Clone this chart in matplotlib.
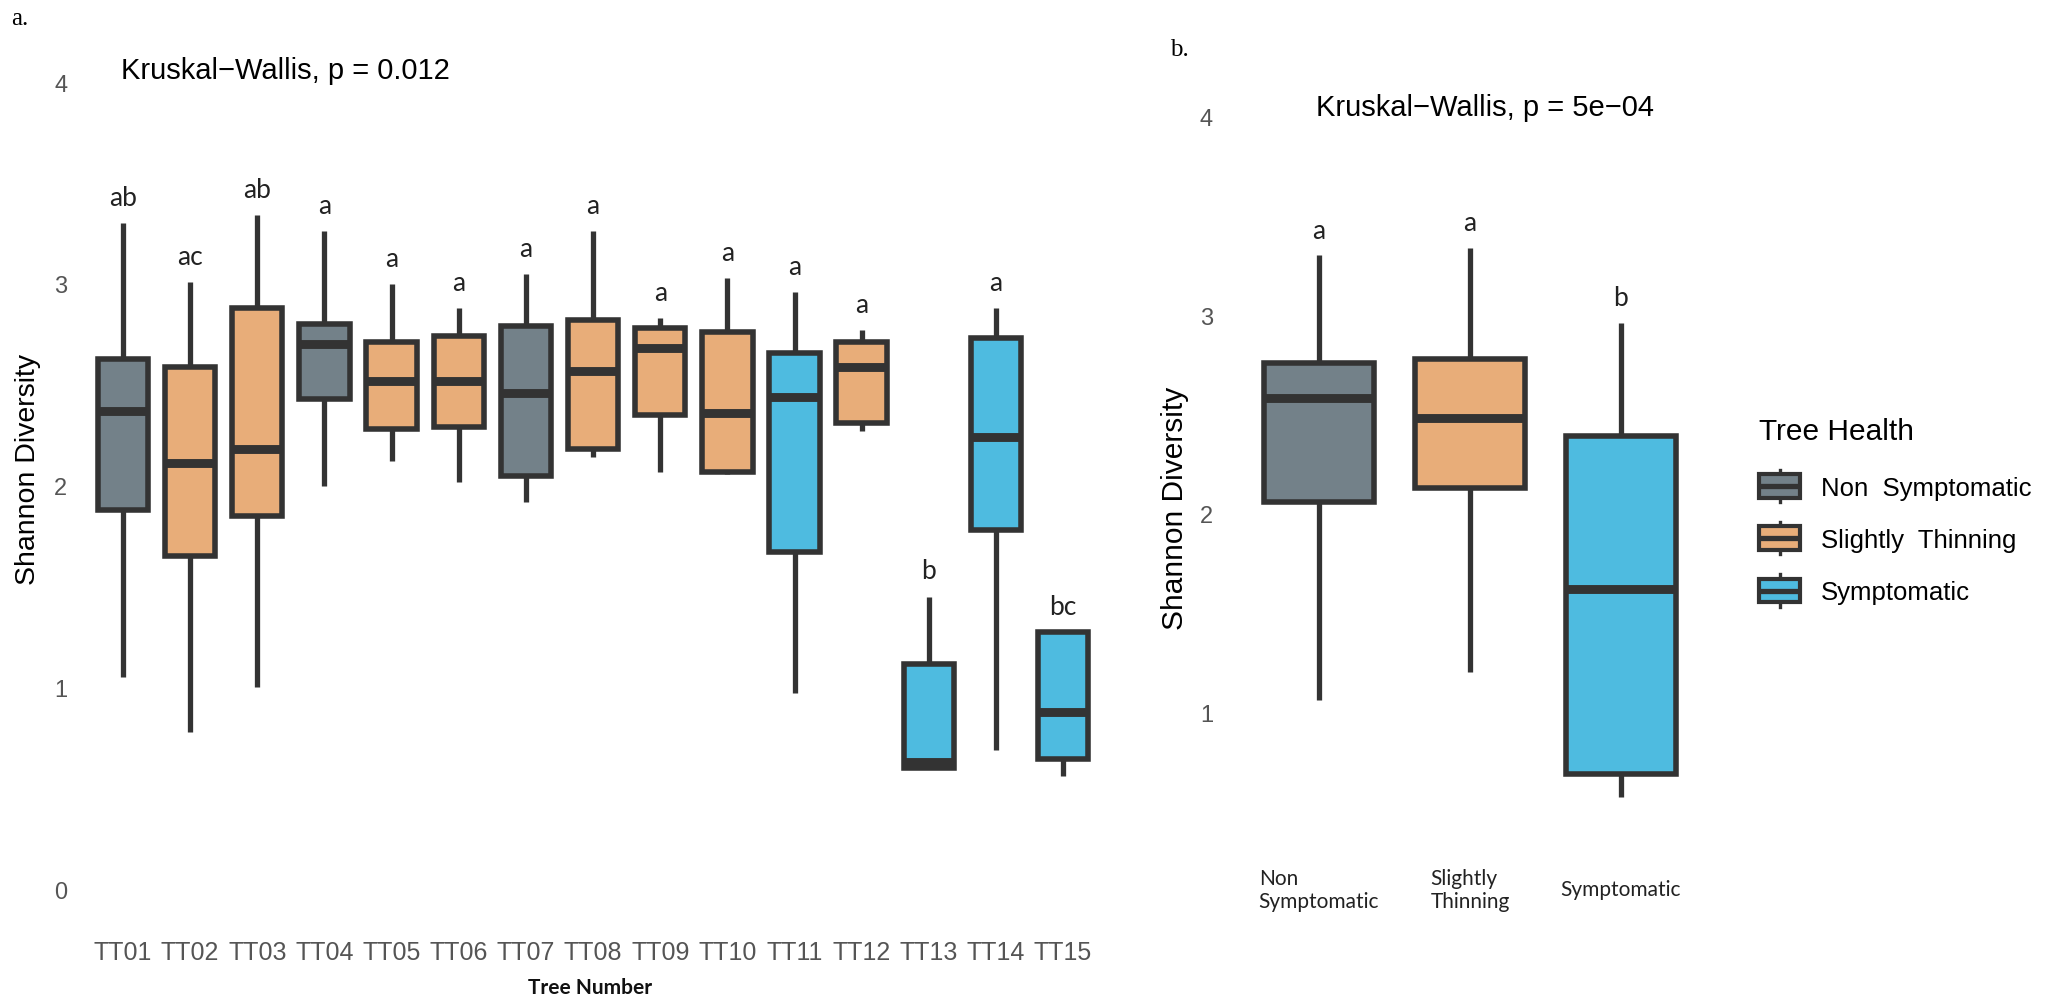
"""
    Shannon diversity per tree (a) and per tree-health group (b)
"""

import matplotlib
matplotlib.use("Agg")
from matplotlib import pyplot as plt
from matplotlib.patches import Rectangle, Patch
from matplotlib.lines import Line2D
from matplotlib.legend_handler import HandlerBase

# Data

trees = ["TT01", "TT02", "TT03", "TT04", "TT05", "TT06", "TT07", "TT08",
         "TT09", "TT10", "TT11", "TT12", "TT13", "TT14", "TT15"]
tree_health = ["Non Symptomatic", "Slightly Thinning", "Slightly Thinning", "Non Symptomatic",
               "Slightly Thinning", "Slightly Thinning", "Non Symptomatic", "Slightly Thinning",
               "Slightly Thinning", "Slightly Thinning", "Symptomatic", "Slightly Thinning",
               "Symptomatic", "Symptomatic", "Symptomatic"]
tree_whislo = [1.05, 0.78, 1.00, 2.00, 2.12, 2.02, 1.92, 2.14, 2.07, 2.06, 0.97, 2.27, 0.60, 0.69, 0.56]
tree_q1 = [1.88, 1.65, 1.85, 2.43, 2.28, 2.29, 2.05, 2.18, 2.35, 2.07, 1.67, 2.31, 0.60, 1.78, 0.645]
tree_med = [2.37, 2.11, 2.18, 2.70, 2.52, 2.52, 2.46, 2.57, 2.68, 2.36, 2.44, 2.59, 0.63, 2.24, 0.88]
tree_q3 = [2.63, 2.59, 2.88, 2.80, 2.71, 2.74, 2.79, 2.82, 2.78, 2.76, 2.66, 2.71, 1.115, 2.73, 1.275]
tree_whishi = [3.30, 3.01, 3.34, 3.26, 3.00, 2.88, 3.05, 3.26, 2.83, 3.03, 2.96, 2.77, 1.45, 2.88, 1.275]
tree_letters = ["ab", "ac", "ab", "a", "a", "a", "a", "a", "a", "a", "a", "a", "b", "a", "bc"]

health = ["Non Symptomatic", "Slightly Thinning", "Symptomatic"]
health_ticklabels = ["Non\nSymptomatic", "Slightly\nThinning", "Symptomatic"]
health_legend = ["Non  Symptomatic", "Slightly  Thinning", "Symptomatic"]
health_whislo = [1.06, 1.20, 0.57]
health_q1 = [2.06, 2.13, 0.69]
health_med = [2.58, 2.48, 1.62]
health_q3 = [2.76, 2.78, 2.39]
health_whishi = [3.30, 3.34, 2.96]
health_letters = ["a", "a", "b"]

yticks = [0, 1, 2, 3, 4]

# Styling

PALETTE = {
    "Non Symptomatic": "#738189",
    "Slightly Thinning": "#e8ad79",
    "Symptomatic": "#4ebbe0",
}
EDGE = "#333333"
ARIAL = "Liberation Sans"
CALIBRI = "Lato"
TICK_GREY = "#555555"

W, H = 2062, 1003


def px_rect(left, top, right, bottom):
    """
        Pixel box (from top-left) -> figure fraction rect
    """
    return [left / W, 1 - bottom / H, (right - left) / W, (bottom - top) / H]


def draw_boxes(ax, positions, whislo, q1, med, q3, whishi, groups, width):
    stats = [dict(whislo=a, q1=b, med=c, q3=d, whishi=e, fliers=[])
             for a, b, c, d, e in zip(whislo, q1, med, q3, whishi)]
    bp = ax.bxp(stats, positions=positions, widths=width, patch_artist=True,
                showcaps=False, showfliers=False,
                boxprops=dict(edgecolor=EDGE, linewidth=4.0),
                medianprops=dict(color=EDGE, linewidth=6.4, solid_capstyle="butt"),
                whiskerprops=dict(color=EDGE, linewidth=3.8, solid_capstyle="butt"))
    for patch, g in zip(bp["boxes"], groups):
        patch.set_facecolor(PALETTE[g])
    return bp


def clean_axes(ax):
    for s in ax.spines.values():
        s.set_visible(False)
    ax.tick_params(length=0)


class BoxKey(HandlerBase):
    """
        Legend key drawn as a small boxplot
    """
    def create_artists(self, legend, orig_handle, xdescent, ydescent, width, height, fontsize, trans):
        x0, y0 = -xdescent, -ydescent
        cx = x0 + width / 2
        lo = Line2D([cx, cx], [y0, y0 + 0.13 * height], color=EDGE, lw=2.4, transform=trans)
        hi = Line2D([cx, cx], [y0 + 0.87 * height, y0 + height], color=EDGE, lw=2.4, transform=trans)
        box = Rectangle((x0, y0 + 0.13 * height), width, 0.74 * height,
                        facecolor=orig_handle.get_facecolor(), edgecolor=EDGE,
                        linewidth=3.0, transform=trans)
        med = Line2D([x0, x0 + width], [y0 + height / 2] * 2, color=EDGE, lw=3.8,
                     solid_capstyle="butt", transform=trans)
        return [lo, hi, box, med]


fig = plt.figure(figsize=(W / 100, H / 100), dpi=100)

# Panel a

ax_a = fig.add_axes(px_rect(82.7, 42.9, 1103.4, 910.2))
pos_a = list(range(1, len(trees) + 1))
draw_boxes(ax_a, pos_a, tree_whislo, tree_q1, tree_med, tree_q3, tree_whishi, tree_health, 0.75)
ax_a.set_xlim(0.4, len(trees) + 0.6)
ax_a.set_ylim(-0.1, 4.2)
clean_axes(ax_a)
ax_a.set_xticks(pos_a, trees, fontsize=18, family=ARIAL, color=TICK_GREY)
ax_a.set_yticks(yticks, [str(t) for t in yticks], fontsize=17, family=ARIAL, color=TICK_GREY)
for lbl in ax_a.get_xticklabels():
    lbl.set_va("center")
ax_a.tick_params(axis="x", pad=31)
ax_a.tick_params(axis="y", pad=11)

for x, top, letter in zip(pos_a, tree_whishi, tree_letters):
    ax_a.text(x, top + 0.09, letter, ha="center", va="baseline", fontsize=19,
              family=CALIBRI, color="#222222")

ax_a.text(0.97, 4.06, "Kruskal\u2212Wallis, p = 0.012", ha="left", va="center",
          fontsize=21, family=ARIAL, color="black")

fig.text(28 / W, 1 - 469 / H, "Shannon Diversity", rotation=90, ha="center", va="center",
         fontsize=20.5, family=ARIAL, color="black")
fig.text(590 / W, 1 - 988 / H, "Tree Number", ha="center", va="center",
         fontsize=15, family=CALIBRI, fontweight="bold", color="#111111")
fig.text(11 / W, 1 - 25 / H, "a.", ha="left", va="baseline", fontsize=18,
         family="Liberation Serif", color="black")

# Panel b

ax_b = fig.add_axes(px_rect(1228.4, 77.8, 1711.6, 822.2))
pos_b = list(range(1, len(health) + 1))
draw_boxes(ax_b, pos_b, health_whislo, health_q1, health_med, health_q3, health_whishi, health, 0.735)
ax_b.set_xlim(0.4, len(health) + 0.6)
ax_b.set_ylim(0.45, 4.2)
clean_axes(ax_b)
ax_b.set_xticks(pos_b, health_ticklabels, fontsize=15, family=CALIBRI, color="#222222")
ax_b.set_yticks(yticks[1:], [str(t) for t in yticks[1:]], fontsize=17, family=ARIAL, color=TICK_GREY)
for lbl in ax_b.get_xticklabels():
    lbl.set_va("center")
    lbl.set_multialignment("left")
ax_b.tick_params(axis="x", pad=49)
ax_b.tick_params(axis="y", pad=11)

for x, top, letter in zip(pos_b, health_whishi, health_letters):
    ax_b.text(x, top + 0.09, letter, ha="center", va="baseline", fontsize=19,
              family=CALIBRI, color="#222222")

ax_b.text(0.98, 4.05, "Kruskal\u2212Wallis, p = 5e\u221204", ha="left", va="center",
          fontsize=21, family=ARIAL, color="black")

fig.text(1175 / W, 1 - 508 / H, "Shannon Diversity", rotation=90, ha="center", va="center",
         fontsize=21.5, family=ARIAL, color="black")
fig.text(1170 / W, 1 - 56 / H, "b.", ha="left", va="baseline", fontsize=18,
         family="Liberation Serif", color="black")

handles = [Patch(facecolor=PALETTE[h], label=lab) for h, lab in zip(health, health_legend)]
leg = fig.legend(handles=handles, handler_map={Patch: BoxKey()}, loc="upper left",
                 bbox_to_anchor=(1759 / W, 1 - 418 / H), bbox_transform=fig.transFigure,
                 frameon=False, borderpad=0, borderaxespad=0,
                 title="Tree Health", alignment="left",
                 prop=dict(family=ARIAL, size=18.5),
                 title_fontproperties=dict(family=ARIAL, size=21.5),
                 handlelength=1.6, handleheight=1.55, handletextpad=0.8, labelspacing=0.78)
leg._legend_box.sep = 18

fig.savefig("out.png", dpi=100)
